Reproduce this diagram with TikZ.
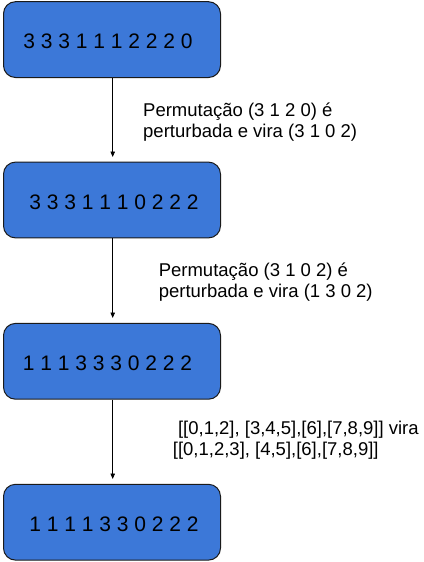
\documentclass[tikz,border=0pt]{standalone}
\usepackage{fontspec}
\setmainfont{Liberation Sans}
\usetikzlibrary{arrows.meta}
\definecolor{boxblue}{HTML}{3C78D8}
\definecolor{edge}{HTML}{1A1A1A}
\tikzset{
  seqbox/.style={draw=edge, line width=1pt, fill=boxblue, rounded corners=12pt,
    minimum width=217pt, minimum height=75.8pt, inner sep=0pt,
    font=\fontsize{21}{24}\selectfont, text height=18pt, text depth=0pt},
  flow/.style={draw=black, line width=0.9pt, -{Triangle[length=5.5pt,width=4.5pt]}},
  note/.style={anchor=base west, inner sep=0pt,
    font=\fontsize{18.5}{21}\selectfont}
}
\begin{document}
\begin{tikzpicture}[x=1pt,y=-1pt]
\useasboundingbox (0,0) rectangle (423,562);
\node[seqbox] (b1) at (112,39.6) {3 3 3 1 1 1 2 2 2 0\hspace*{8pt}};
\node[seqbox] (b2) at (112,200) {\hspace*{4pt}3 3 3 1 1 1 0 2 2 2};
\node[seqbox] (b3) at (112,361.3) {1 1 1 3 3 3 0 2 2 2\hspace*{9pt}};
\node[seqbox] (b4) at (112,522.2) {\hspace*{4pt}1 1 1 1 3 3 0 2 2 2};
\coordinate (t1) at (112.7,157);
\coordinate (t2) at (112.7,318);
\coordinate (t3) at (112.7,479);
\draw[flow] (b1.south -| t1) -- (t1);
\draw[flow] (b2.south -| t2) -- (t2);
\draw[flow] (b3.south -| t3) -- (t3);
\node[note] (n1) at (143,116) {\begin{tabular}[t]{@{}l@{}}Permutação (3 1 2 0) é\\perturbada e vira (3 1 0 2)\end{tabular}};
\node[note] (n2) at (158.6,276) {\begin{tabular}[t]{@{}l@{}}Permutação (3 1 0 2) é\\perturbada e vira (1 3 0 2)\end{tabular}};
\node[note] (n3) at (172.7,434) {\begin{tabular}[t]{@{}l@{}}\hspace*{0.278em}[[0,1,2], [3,4,5],[6],[7,8,9]] vira\\{}[[0,1,2,3], [4,5],[6],[7,8,9]]\end{tabular}};
\end{tikzpicture}
\end{document}
